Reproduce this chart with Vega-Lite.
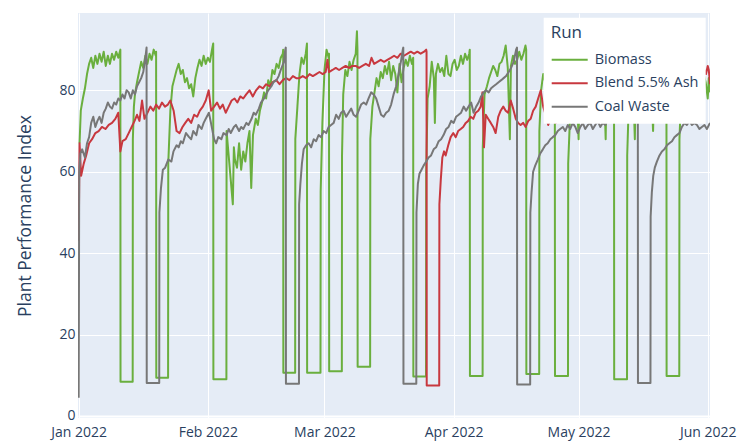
{
  "$schema": "https://vega.github.io/schema/vega-lite/v6.json",
  "width": 632,
  "height": 405,
  "autosize": {"type": "none"},
  "padding": {"left": 78, "top": 13, "right": 36, "bottom": 30},
  "background": "white",
  "config": {"view": {"fill": "#E5ECF6", "stroke": null}, "font": "Open Sans"},
  "datasets": {
    "biomass": [
      {"t":"2022-01-01T05:00","v":67},{"t":"2022-01-01T12:00","v":75},{"t":"2022-01-02T00:00","v":78},{"t":"2022-01-02T12:00","v":80.5},
      {"t":"2022-01-03T00:00","v":84},{"t":"2022-01-03T12:00","v":86.5},{"t":"2022-01-04T00:00","v":88},{"t":"2022-01-04T12:00","v":85.5},
      {"t":"2022-01-05T00:00","v":88.5},{"t":"2022-01-05T12:00","v":86.5},{"t":"2022-01-06T00:00","v":89},{"t":"2022-01-06T12:00","v":87},
      {"t":"2022-01-07T00:00","v":89.5},{"t":"2022-01-07T12:00","v":86},{"t":"2022-01-08T00:00","v":88.5},{"t":"2022-01-08T12:00","v":86.5},
      {"t":"2022-01-09T00:00","v":89},{"t":"2022-01-09T12:00","v":87.5},{"t":"2022-01-10T00:00","v":89.5},{"t":"2022-01-10T12:00","v":88},
      {"t":"2022-01-11T00:00","v":90},{"t":"2022-01-11T01:00","v":8.4},{"t":"2022-01-13T23:00","v":8.4},{"t":"2022-01-14T00:00","v":68},
      {"t":"2022-01-14T06:00","v":76},{"t":"2022-01-14T12:00","v":79},{"t":"2022-01-15T00:00","v":82},{"t":"2022-01-15T12:00","v":84.5},
      {"t":"2022-01-16T00:00","v":87},{"t":"2022-01-16T12:00","v":85.5},{"t":"2022-01-17T00:00","v":88.5},{"t":"2022-01-17T12:00","v":86.5},
      {"t":"2022-01-18T00:00","v":89},{"t":"2022-01-18T12:00","v":87.5},{"t":"2022-01-19T00:00","v":90},{"t":"2022-01-19T12:00","v":88.5},
      {"t":"2022-01-19T14:00","v":89.5},{"t":"2022-01-19T15:00","v":9.4},{"t":"2022-01-22T11:00","v":9.4},{"t":"2022-01-22T12:00","v":62},
      {"t":"2022-01-23T00:00","v":75},{"t":"2022-01-23T12:00","v":81},{"t":"2022-01-24T00:00","v":83},{"t":"2022-01-24T12:00","v":85},
      {"t":"2022-01-25T00:00","v":86.5},{"t":"2022-01-25T12:00","v":84},{"t":"2022-01-26T00:00","v":85},{"t":"2022-01-26T12:00","v":82},
      {"t":"2022-01-27T00:00","v":83},{"t":"2022-01-27T12:00","v":80.5},{"t":"2022-01-28T00:00","v":81.5},{"t":"2022-01-28T12:00","v":78.5},
      {"t":"2022-01-29T00:00","v":83},{"t":"2022-01-29T12:00","v":85.5},{"t":"2022-01-30T00:00","v":87.5},{"t":"2022-01-30T12:00","v":86},
      {"t":"2022-01-31T00:00","v":88.5},{"t":"2022-01-31T12:00","v":86.5},{"t":"2022-02-01T00:00","v":88},{"t":"2022-02-01T12:00","v":87},
      {"t":"2022-02-02T00:00","v":90},{"t":"2022-02-02T07:00","v":91.5},{"t":"2022-02-02T08:00","v":9},{"t":"2022-02-05T11:00","v":9},
      {"t":"2022-02-05T12:00","v":70},{"t":"2022-02-06T00:00","v":64},{"t":"2022-02-06T12:00","v":58},{"t":"2022-02-07T00:00","v":52},
      {"t":"2022-02-07T06:00","v":66},{"t":"2022-02-07T12:00","v":63},{"t":"2022-02-08T00:00","v":61},{"t":"2022-02-08T12:00","v":67},
      {"t":"2022-02-09T00:00","v":60.5},{"t":"2022-02-09T12:00","v":65},{"t":"2022-02-10T00:00","v":62.5},{"t":"2022-02-10T12:00","v":67},
      {"t":"2022-02-11T00:00","v":70},{"t":"2022-02-11T10:00","v":56},{"t":"2022-02-11T20:00","v":69},{"t":"2022-02-12T12:00","v":73},
      {"t":"2022-02-13T00:00","v":71.5},{"t":"2022-02-13T12:00","v":75},{"t":"2022-02-14T00:00","v":77},{"t":"2022-02-14T12:00","v":79.5},
      {"t":"2022-02-15T00:00","v":78},{"t":"2022-02-15T12:00","v":82.5},{"t":"2022-02-16T00:00","v":81},{"t":"2022-02-16T12:00","v":85},
      {"t":"2022-02-17T00:00","v":84},{"t":"2022-02-17T12:00","v":86.5},{"t":"2022-02-18T00:00","v":85.5},{"t":"2022-02-18T12:00","v":88},
      {"t":"2022-02-19T00:00","v":89},{"t":"2022-02-19T02:00","v":90},{"t":"2022-02-19T03:00","v":10.6},{"t":"2022-02-21T23:00","v":10.6},
      {"t":"2022-02-22T00:00","v":68},{"t":"2022-02-22T12:00","v":76},{"t":"2022-02-23T00:00","v":84},{"t":"2022-02-23T12:00","v":88},
      {"t":"2022-02-24T00:00","v":86.5},{"t":"2022-02-24T12:00","v":89},{"t":"2022-02-24T19:00","v":91.5},{"t":"2022-02-24T20:00","v":10.6},
      {"t":"2022-02-28T01:00","v":10.6},{"t":"2022-02-28T02:00","v":55},{"t":"2022-02-28T12:00","v":72},{"t":"2022-03-01T00:00","v":85},
      {"t":"2022-03-01T12:00","v":90},{"t":"2022-03-02T00:00","v":88},{"t":"2022-03-02T02:00","v":89},{"t":"2022-03-02T03:00","v":11},
      {"t":"2022-03-05T04:00","v":11},{"t":"2022-03-05T05:00","v":64},{"t":"2022-03-05T12:00","v":79},{"t":"2022-03-06T00:00","v":85},
      {"t":"2022-03-06T12:00","v":83.5},{"t":"2022-03-07T00:00","v":87},{"t":"2022-03-07T12:00","v":85},{"t":"2022-03-08T00:00","v":87.5},
      {"t":"2022-03-08T12:00","v":89},{"t":"2022-03-08T19:00","v":94.5},{"t":"2022-03-08T22:00","v":90},{"t":"2022-03-08T23:00","v":12.1},
      {"t":"2022-03-11T23:00","v":12.1},{"t":"2022-03-12T00:00","v":68},{"t":"2022-03-12T12:00","v":76},{"t":"2022-03-13T00:00","v":79.5},
      {"t":"2022-03-13T12:00","v":83},{"t":"2022-03-14T00:00","v":81},{"t":"2022-03-14T12:00","v":84.5},{"t":"2022-03-15T00:00","v":83},
      {"t":"2022-03-15T12:00","v":86},{"t":"2022-03-16T00:00","v":84},{"t":"2022-03-16T12:00","v":87},{"t":"2022-03-17T00:00","v":82.5},
      {"t":"2022-03-17T12:00","v":86},{"t":"2022-03-18T00:00","v":84},{"t":"2022-03-18T12:00","v":79.5},{"t":"2022-03-19T00:00","v":86.5},
      {"t":"2022-03-19T12:00","v":82},{"t":"2022-03-20T00:00","v":85.5},{"t":"2022-03-20T12:00","v":87.5},{"t":"2022-03-21T00:00","v":86},
      {"t":"2022-03-21T12:00","v":88.5},{"t":"2022-03-22T00:00","v":86.5},{"t":"2022-03-22T07:00","v":88},{"t":"2022-03-22T08:00","v":9.7},
      {"t":"2022-03-25T09:00","v":9.7},{"t":"2022-03-25T10:00","v":60},{"t":"2022-03-25T18:00","v":78},{"t":"2022-03-26T06:00","v":81},
      {"t":"2022-03-26T18:00","v":87},{"t":"2022-03-27T06:00","v":83},{"t":"2022-03-27T12:00","v":72},{"t":"2022-03-27T18:00","v":84},
      {"t":"2022-03-28T06:00","v":86.5},{"t":"2022-03-28T18:00","v":84.5},{"t":"2022-03-29T06:00","v":85.5},{"t":"2022-03-29T18:00","v":83.5},
      {"t":"2022-03-30T06:00","v":88.5},{"t":"2022-03-30T18:00","v":84},{"t":"2022-03-31T06:00","v":83.5},{"t":"2022-03-31T18:00","v":86.5},
      {"t":"2022-04-01T06:00","v":87.5},{"t":"2022-04-01T18:00","v":85},{"t":"2022-04-02T06:00","v":86},{"t":"2022-04-02T18:00","v":88.5},
      {"t":"2022-04-03T06:00","v":86.5},{"t":"2022-04-03T18:00","v":89},{"t":"2022-04-04T06:00","v":87.5},{"t":"2022-04-04T18:00","v":89},
      {"t":"2022-04-04T21:00","v":90},{"t":"2022-04-04T22:00","v":9.8},{"t":"2022-04-07T23:00","v":9.8},{"t":"2022-04-08T00:00","v":66},
      {"t":"2022-04-08T10:00","v":79},{"t":"2022-04-09T00:00","v":81},{"t":"2022-04-09T12:00","v":83},{"t":"2022-04-10T00:00","v":84.5},
      {"t":"2022-04-10T12:00","v":86},{"t":"2022-04-11T00:00","v":85},{"t":"2022-04-11T12:00","v":83.5},{"t":"2022-04-12T00:00","v":86.5},
      {"t":"2022-04-12T12:00","v":87},{"t":"2022-04-13T00:00","v":88.5},{"t":"2022-04-13T12:00","v":91},{"t":"2022-04-14T00:00","v":85.5},
      {"t":"2022-04-14T12:00","v":68},{"t":"2022-04-14T18:00","v":86},{"t":"2022-04-15T06:00","v":88.5},{"t":"2022-04-15T18:00","v":86.5},
      {"t":"2022-04-16T06:00","v":87.5},{"t":"2022-04-16T18:00","v":89.5},{"t":"2022-04-17T06:00","v":87.5},{"t":"2022-04-17T18:00","v":89},
      {"t":"2022-04-18T06:00","v":91},{"t":"2022-04-18T10:00","v":90},{"t":"2022-04-18T11:00","v":10.3},{"t":"2022-04-21T13:00","v":10.3},
      {"t":"2022-04-21T14:00","v":70},{"t":"2022-04-22T00:00","v":80},{"t":"2022-04-22T12:00","v":84},{"t":"2022-04-23T00:00","v":82},
      {"t":"2022-04-23T12:00","v":86},{"t":"2022-04-24T00:00","v":84.5},{"t":"2022-04-24T12:00","v":87},{"t":"2022-04-25T00:00","v":85.5},
      {"t":"2022-04-25T07:00","v":88},{"t":"2022-04-25T08:00","v":9.8},{"t":"2022-04-28T11:00","v":9.8},{"t":"2022-04-28T12:00","v":62},
      {"t":"2022-04-29T00:00","v":75},{"t":"2022-04-29T12:00","v":80},{"t":"2022-04-30T00:00","v":84},{"t":"2022-04-30T12:00","v":82},
      {"t":"2022-05-01T00:00","v":68},{"t":"2022-05-01T06:00","v":82},{"t":"2022-05-01T12:00","v":85},{"t":"2022-05-02T00:00","v":83},
      {"t":"2022-05-02T12:00","v":86.5},{"t":"2022-05-03T00:00","v":85},{"t":"2022-05-03T12:00","v":88},{"t":"2022-05-04T00:00","v":86},
      {"t":"2022-05-04T12:00","v":88.5},{"t":"2022-05-05T00:00","v":85.5},{"t":"2022-05-05T12:00","v":87},{"t":"2022-05-06T00:00","v":84.5},
      {"t":"2022-05-06T12:00","v":86.5},{"t":"2022-05-07T00:00","v":85},{"t":"2022-05-07T12:00","v":68},{"t":"2022-05-07T18:00","v":86},
      {"t":"2022-05-08T06:00","v":88},{"t":"2022-05-08T18:00","v":86.5},{"t":"2022-05-09T06:00","v":89},{"t":"2022-05-09T12:00","v":88},
      {"t":"2022-05-09T13:00","v":9},{"t":"2022-05-12T15:00","v":9},{"t":"2022-05-12T16:00","v":64},{"t":"2022-05-13T02:00","v":78},
      {"t":"2022-05-13T12:00","v":84},{"t":"2022-05-14T00:00","v":85},{"t":"2022-05-14T12:00","v":68},{"t":"2022-05-14T18:00","v":83},
      {"t":"2022-05-15T06:00","v":86},{"t":"2022-05-15T18:00","v":84},{"t":"2022-05-16T06:00","v":87},{"t":"2022-05-16T18:00","v":85},
      {"t":"2022-05-17T06:00","v":88},{"t":"2022-05-17T18:00","v":86},{"t":"2022-05-18T06:00","v":87.5},{"t":"2022-05-18T21:00","v":70},
      {"t":"2022-05-19T06:00","v":86},{"t":"2022-05-19T18:00","v":88},{"t":"2022-05-20T06:00","v":86},{"t":"2022-05-20T18:00","v":88.5},
      {"t":"2022-05-21T06:00","v":87},{"t":"2022-05-21T18:00","v":89},{"t":"2022-05-22T02:00","v":88},{"t":"2022-05-22T03:00","v":9.8},
      {"t":"2022-05-25T04:00","v":9.8},{"t":"2022-05-25T05:00","v":68},{"t":"2022-05-25T14:00","v":78},{"t":"2022-05-26T00:00","v":83},
      {"t":"2022-05-26T12:00","v":86},{"t":"2022-05-27T00:00","v":87.5},{"t":"2022-05-27T12:00","v":85},{"t":"2022-05-28T00:00","v":88},
      {"t":"2022-05-28T12:00","v":86},{"t":"2022-05-29T00:00","v":88.5},{"t":"2022-05-29T12:00","v":87},{"t":"2022-05-30T00:00","v":85.5},
      {"t":"2022-05-30T12:00","v":87},{"t":"2022-05-31T00:00","v":84},{"t":"2022-05-31T12:00","v":82},{"t":"2022-06-01T00:00","v":78},
      {"t":"2022-06-01T06:00","v":83},{"t":"2022-06-01T13:00","v":79.5}
    ],
    "blend": [
      {"t":"2022-01-01T00:00","v":43},{"t":"2022-01-01T05:00","v":67},{"t":"2022-01-01T14:00","v":59},{"t":"2022-01-02T05:00","v":62},
      {"t":"2022-01-02T19:00","v":64},{"t":"2022-01-03T12:00","v":67},{"t":"2022-01-04T05:00","v":68},{"t":"2022-01-05T00:00","v":69.5},
      {"t":"2022-01-05T19:00","v":70},{"t":"2022-01-06T14:00","v":71},{"t":"2022-01-07T10:00","v":70.5},{"t":"2022-01-08T05:00","v":71.5},
      {"t":"2022-01-09T00:00","v":72},{"t":"2022-01-09T19:00","v":73},{"t":"2022-01-10T12:00","v":74.5},{"t":"2022-01-11T00:00","v":65},
      {"t":"2022-01-11T12:00","v":67.5},{"t":"2022-01-12T07:00","v":68},{"t":"2022-01-13T00:00","v":69.5},{"t":"2022-01-13T17:00","v":71},
      {"t":"2022-01-14T10:00","v":72.5},{"t":"2022-01-15T00:00","v":74},{"t":"2022-01-15T14:00","v":72.5},{"t":"2022-01-16T05:00","v":77.5},
      {"t":"2022-01-16T19:00","v":73},{"t":"2022-01-17T12:00","v":74.5},{"t":"2022-01-18T05:00","v":76},{"t":"2022-01-18T22:00","v":75},
      {"t":"2022-01-19T14:00","v":76.5},{"t":"2022-01-20T07:00","v":75.5},{"t":"2022-01-21T00:00","v":77},{"t":"2022-01-21T17:00","v":76},
      {"t":"2022-01-22T10:00","v":76.5},{"t":"2022-01-23T00:00","v":77.5},{"t":"2022-01-23T19:00","v":75},{"t":"2022-01-24T12:00","v":70},
      {"t":"2022-01-25T05:00","v":69.5},{"t":"2022-01-25T22:00","v":71},{"t":"2022-01-26T14:00","v":72},{"t":"2022-01-27T07:00","v":73},
      {"t":"2022-01-28T00:00","v":72},{"t":"2022-01-28T17:00","v":74},{"t":"2022-01-29T10:00","v":73.5},{"t":"2022-01-30T02:00","v":75},
      {"t":"2022-01-30T19:00","v":76},{"t":"2022-01-31T12:00","v":77.5},{"t":"2022-02-01T05:00","v":80},{"t":"2022-02-01T19:00","v":75},
      {"t":"2022-02-02T12:00","v":76},{"t":"2022-02-03T05:00","v":77},{"t":"2022-02-03T22:00","v":75.5},{"t":"2022-02-04T14:00","v":76.5},
      {"t":"2022-02-05T07:00","v":74.5},{"t":"2022-02-06T00:00","v":76},{"t":"2022-02-06T17:00","v":77.5},{"t":"2022-02-07T10:00","v":78},
      {"t":"2022-02-08T02:00","v":77},{"t":"2022-02-08T19:00","v":78.5},{"t":"2022-02-09T12:00","v":78},{"t":"2022-02-10T05:00","v":79},
      {"t":"2022-02-11T00:00","v":80},{"t":"2022-02-11T19:00","v":78.5},{"t":"2022-02-12T14:00","v":80},{"t":"2022-02-13T10:00","v":81},
      {"t":"2022-02-14T05:00","v":80.5},{"t":"2022-02-15T00:00","v":81.5},{"t":"2022-02-15T19:00","v":81},{"t":"2022-02-16T14:00","v":82},
      {"t":"2022-02-17T10:00","v":82.5},{"t":"2022-02-18T05:00","v":81.5},{"t":"2022-02-19T00:00","v":82.5},{"t":"2022-02-19T19:00","v":83},
      {"t":"2022-02-20T14:00","v":82.5},{"t":"2022-02-21T10:00","v":83.5},{"t":"2022-02-22T05:00","v":83},{"t":"2022-02-23T00:00","v":83},
      {"t":"2022-02-23T19:00","v":83.5},{"t":"2022-02-24T14:00","v":83},{"t":"2022-02-25T10:00","v":84},{"t":"2022-02-26T05:00","v":83.5},
      {"t":"2022-02-27T00:00","v":84},{"t":"2022-02-27T19:00","v":84.5},{"t":"2022-02-28T14:00","v":84},{"t":"2022-03-01T07:00","v":84.5},
      {"t":"2022-03-01T17:00","v":87.5},{"t":"2022-03-02T02:00","v":84.5},{"t":"2022-03-02T22:00","v":85},{"t":"2022-03-03T17:00","v":85.5},
      {"t":"2022-03-04T12:00","v":85},{"t":"2022-03-05T07:00","v":85.5},{"t":"2022-03-06T02:00","v":86},{"t":"2022-03-06T22:00","v":85.5},
      {"t":"2022-03-07T17:00","v":86},{"t":"2022-03-08T12:00","v":86},{"t":"2022-03-09T07:00","v":85.5},{"t":"2022-03-10T02:00","v":86},
      {"t":"2022-03-10T22:00","v":86.5},{"t":"2022-03-11T17:00","v":86},{"t":"2022-03-12T07:00","v":88},{"t":"2022-03-12T22:00","v":86.5},
      {"t":"2022-03-13T17:00","v":87},{"t":"2022-03-14T12:00","v":87.5},{"t":"2022-03-15T07:00","v":87},{"t":"2022-03-16T02:00","v":87.5},
      {"t":"2022-03-16T22:00","v":88},{"t":"2022-03-17T17:00","v":88.5},{"t":"2022-03-18T12:00","v":88},{"t":"2022-03-19T07:00","v":89},
      {"t":"2022-03-20T02:00","v":88.5},{"t":"2022-03-20T22:00","v":89},{"t":"2022-03-21T17:00","v":89.5},{"t":"2022-03-22T12:00","v":89},
      {"t":"2022-03-23T07:00","v":89.5},{"t":"2022-03-24T02:00","v":89},{"t":"2022-03-24T22:00","v":89.5},{"t":"2022-03-25T10:00","v":90},
      {"t":"2022-03-25T12:00","v":89.5},{"t":"2022-03-25T13:00","v":7.5},{"t":"2022-03-28T13:00","v":7.5},{"t":"2022-03-28T14:00","v":52},
      {"t":"2022-03-28T22:00","v":58},{"t":"2022-03-29T07:00","v":63.5},{"t":"2022-03-29T17:00","v":65},{"t":"2022-03-30T02:00","v":64},
      {"t":"2022-03-30T17:00","v":66.5},{"t":"2022-03-31T07:00","v":68.5},{"t":"2022-03-31T22:00","v":69.5},{"t":"2022-04-01T12:00","v":68.5},
      {"t":"2022-04-02T02:00","v":70},{"t":"2022-04-02T17:00","v":70.5},{"t":"2022-04-03T07:00","v":71},{"t":"2022-04-03T22:00","v":72},
      {"t":"2022-04-04T12:00","v":72.5},{"t":"2022-04-05T02:00","v":73.5},{"t":"2022-04-05T17:00","v":73},{"t":"2022-04-06T07:00","v":74.5},
      {"t":"2022-04-06T22:00","v":75},{"t":"2022-04-07T12:00","v":76},{"t":"2022-04-07T22:00","v":79.5},{"t":"2022-04-08T07:00","v":66},
      {"t":"2022-04-08T17:00","v":74},{"t":"2022-04-09T07:00","v":73},{"t":"2022-04-09T22:00","v":72},{"t":"2022-04-10T12:00","v":71},
      {"t":"2022-04-11T02:00","v":69.5},{"t":"2022-04-11T17:00","v":73.5},{"t":"2022-04-12T07:00","v":75},{"t":"2022-04-12T22:00","v":76},
      {"t":"2022-04-13T12:00","v":75},{"t":"2022-04-14T02:00","v":74.5},{"t":"2022-04-14T17:00","v":77.5},{"t":"2022-04-15T07:00","v":75.5},
      {"t":"2022-04-15T22:00","v":73},{"t":"2022-04-16T12:00","v":72},{"t":"2022-04-17T02:00","v":71.5},{"t":"2022-04-17T17:00","v":72},
      {"t":"2022-04-18T07:00","v":71},{"t":"2022-04-18T22:00","v":72.5},{"t":"2022-04-19T12:00","v":73},{"t":"2022-04-20T02:00","v":75},
      {"t":"2022-04-20T17:00","v":76},{"t":"2022-04-21T07:00","v":78},{"t":"2022-04-21T22:00","v":80},{"t":"2022-04-22T12:00","v":76},
      {"t":"2022-04-23T02:00","v":74},{"t":"2022-04-23T17:00","v":71.5},{"t":"2022-04-24T07:00","v":73},{"t":"2022-04-24T22:00","v":75},
      {"t":"2022-04-25T12:00","v":72},{"t":"2022-04-26T02:00","v":74},{"t":"2022-04-26T17:00","v":76},{"t":"2022-04-27T07:00","v":78},
      {"t":"2022-04-28T00:00","v":79},{"t":"2022-04-29T00:00","v":80},{"t":"2022-04-30T00:00","v":79},{"t":"2022-05-01T00:00","v":81},
      {"t":"2022-05-02T00:00","v":80},{"t":"2022-05-03T00:00","v":82},{"t":"2022-05-04T00:00","v":81},{"t":"2022-05-05T00:00","v":83},
      {"t":"2022-05-06T00:00","v":82},{"t":"2022-05-07T00:00","v":81},{"t":"2022-05-08T00:00","v":83},{"t":"2022-05-09T00:00","v":82.5},
      {"t":"2022-05-10T00:00","v":84},{"t":"2022-05-11T00:00","v":83},{"t":"2022-05-12T00:00","v":82},{"t":"2022-05-13T00:00","v":83.5},
      {"t":"2022-05-14T00:00","v":84},{"t":"2022-05-15T00:00","v":83},{"t":"2022-05-16T00:00","v":84.5},{"t":"2022-05-17T00:00","v":84},
      {"t":"2022-05-18T00:00","v":85},{"t":"2022-05-19T00:00","v":84},{"t":"2022-05-20T00:00","v":83},{"t":"2022-05-21T00:00","v":84.5},
      {"t":"2022-05-22T00:00","v":85},{"t":"2022-05-23T00:00","v":84},{"t":"2022-05-24T00:00","v":85.5},{"t":"2022-05-25T00:00","v":85},
      {"t":"2022-05-26T00:00","v":84},{"t":"2022-05-27T00:00","v":85.5},{"t":"2022-05-28T00:00","v":86},{"t":"2022-05-29T00:00","v":85},
      {"t":"2022-05-30T00:00","v":84.5},{"t":"2022-05-31T00:00","v":85.5},{"t":"2022-05-31T14:00","v":84},{"t":"2022-06-01T00:00","v":86},
      {"t":"2022-06-01T06:00","v":85},{"t":"2022-06-01T13:00","v":81.5}
    ],
    "coal": [
      {"t":"2022-01-01T00:00","v":4.5},{"t":"2022-01-01T03:00","v":60},{"t":"2022-01-01T10:00","v":64.5},{"t":"2022-01-01T20:00","v":65.5},
      {"t":"2022-01-02T12:00","v":63.5},{"t":"2022-01-03T00:00","v":67},{"t":"2022-01-03T12:00","v":68.5},{"t":"2022-01-04T00:00","v":72},
      {"t":"2022-01-04T12:00","v":73.5},{"t":"2022-01-05T00:00","v":71},{"t":"2022-01-05T12:00","v":72.5},{"t":"2022-01-06T00:00","v":73.5},
      {"t":"2022-01-06T12:00","v":72},{"t":"2022-01-07T00:00","v":74.5},{"t":"2022-01-07T12:00","v":75.5},{"t":"2022-01-08T00:00","v":77},
      {"t":"2022-01-08T12:00","v":76},{"t":"2022-01-09T00:00","v":75.5},{"t":"2022-01-09T12:00","v":77},{"t":"2022-01-10T00:00","v":76.5},
      {"t":"2022-01-10T12:00","v":78},{"t":"2022-01-11T00:00","v":77.5},{"t":"2022-01-11T12:00","v":79},{"t":"2022-01-12T00:00","v":78},
      {"t":"2022-01-12T12:00","v":80},{"t":"2022-01-13T00:00","v":79.5},{"t":"2022-01-13T12:00","v":78},{"t":"2022-01-14T00:00","v":80},
      {"t":"2022-01-14T12:00","v":79},{"t":"2022-01-15T00:00","v":81},{"t":"2022-01-15T12:00","v":82},{"t":"2022-01-16T00:00","v":83},
      {"t":"2022-01-16T12:00","v":84.5},{"t":"2022-01-17T00:00","v":88},{"t":"2022-01-17T07:00","v":90.5},{"t":"2022-01-17T08:00","v":8.1},
      {"t":"2022-01-20T08:00","v":8.1},{"t":"2022-01-20T09:00","v":50},{"t":"2022-01-20T18:00","v":56},{"t":"2022-01-21T05:00","v":60.5},
      {"t":"2022-01-21T18:00","v":61},{"t":"2022-01-22T12:00","v":63},{"t":"2022-01-23T06:00","v":62.5},{"t":"2022-01-23T18:00","v":65},
      {"t":"2022-01-24T12:00","v":66.5},{"t":"2022-01-25T00:00","v":66},{"t":"2022-01-25T12:00","v":67.5},{"t":"2022-01-26T00:00","v":67},
      {"t":"2022-01-26T18:00","v":69.5},{"t":"2022-01-27T12:00","v":68.5},{"t":"2022-01-28T00:00","v":68},{"t":"2022-01-28T12:00","v":70},
      {"t":"2022-01-29T06:00","v":69},{"t":"2022-01-29T18:00","v":71.5},{"t":"2022-01-30T12:00","v":70.5},{"t":"2022-01-31T00:00","v":72},
      {"t":"2022-01-31T12:00","v":73},{"t":"2022-02-01T06:00","v":74.5},{"t":"2022-02-01T18:00","v":72},{"t":"2022-02-02T12:00","v":68},
      {"t":"2022-02-03T00:00","v":67},{"t":"2022-02-03T12:00","v":68.5},{"t":"2022-02-04T06:00","v":68},{"t":"2022-02-04T18:00","v":69.5},
      {"t":"2022-02-05T12:00","v":69},{"t":"2022-02-06T00:00","v":70.5},{"t":"2022-02-06T12:00","v":69.5},{"t":"2022-02-07T06:00","v":71},
      {"t":"2022-02-07T18:00","v":71.5},{"t":"2022-02-08T12:00","v":70},{"t":"2022-02-09T00:00","v":71},{"t":"2022-02-09T12:00","v":70.5},
      {"t":"2022-02-10T06:00","v":72},{"t":"2022-02-10T18:00","v":71.5},{"t":"2022-02-11T12:00","v":73},{"t":"2022-02-12T00:00","v":74.5},
      {"t":"2022-02-12T12:00","v":74},{"t":"2022-02-13T06:00","v":75.5},{"t":"2022-02-13T18:00","v":77},{"t":"2022-02-14T12:00","v":78},
      {"t":"2022-02-15T00:00","v":79},{"t":"2022-02-15T12:00","v":80},{"t":"2022-02-16T06:00","v":81},{"t":"2022-02-16T18:00","v":82},
      {"t":"2022-02-17T12:00","v":82.5},{"t":"2022-02-18T00:00","v":83.5},{"t":"2022-02-18T12:00","v":85},{"t":"2022-02-19T06:00","v":87},
      {"t":"2022-02-19T14:00","v":90},{"t":"2022-02-19T17:00","v":90.5},{"t":"2022-02-19T18:00","v":7.9},{"t":"2022-02-22T21:00","v":7.9},
      {"t":"2022-02-22T22:00","v":52},{"t":"2022-02-23T05:00","v":57},{"t":"2022-02-23T14:00","v":62},{"t":"2022-02-24T00:00","v":65.5},
      {"t":"2022-02-24T14:00","v":66.5},{"t":"2022-02-25T05:00","v":67},{"t":"2022-02-25T19:00","v":66},{"t":"2022-02-26T10:00","v":68},
      {"t":"2022-02-27T00:00","v":67.5},{"t":"2022-02-27T14:00","v":69},{"t":"2022-02-28T05:00","v":68.5},{"t":"2022-02-28T19:00","v":70},
      {"t":"2022-03-01T10:00","v":69.5},{"t":"2022-03-02T00:00","v":71},{"t":"2022-03-02T14:00","v":71.5},{"t":"2022-03-03T05:00","v":72},
      {"t":"2022-03-03T19:00","v":74},{"t":"2022-03-04T10:00","v":73},{"t":"2022-03-05T00:00","v":74.5},{"t":"2022-03-05T14:00","v":75},
      {"t":"2022-03-06T05:00","v":73.5},{"t":"2022-03-06T19:00","v":74.5},{"t":"2022-03-07T10:00","v":75.5},{"t":"2022-03-08T00:00","v":74},
      {"t":"2022-03-08T14:00","v":73.5},{"t":"2022-03-09T05:00","v":75},{"t":"2022-03-09T19:00","v":76.5},{"t":"2022-03-10T10:00","v":77},
      {"t":"2022-03-11T00:00","v":76.5},{"t":"2022-03-11T14:00","v":78},{"t":"2022-03-12T05:00","v":79.5},{"t":"2022-03-12T19:00","v":79},
      {"t":"2022-03-13T10:00","v":78},{"t":"2022-03-14T00:00","v":76},{"t":"2022-03-14T14:00","v":74},{"t":"2022-03-15T05:00","v":73.5},
      {"t":"2022-03-15T19:00","v":74.5},{"t":"2022-03-16T10:00","v":75},{"t":"2022-03-17T00:00","v":76.5},{"t":"2022-03-17T14:00","v":79},
      {"t":"2022-03-18T05:00","v":81},{"t":"2022-03-18T19:00","v":84},{"t":"2022-03-19T10:00","v":87.5},{"t":"2022-03-19T19:00","v":90},
      {"t":"2022-03-19T22:00","v":90.5},{"t":"2022-03-19T23:00","v":7.9},{"t":"2022-03-23T01:00","v":7.9},{"t":"2022-03-23T02:00","v":50},
      {"t":"2022-03-23T10:00","v":57},{"t":"2022-03-23T19:00","v":59.5},{"t":"2022-03-24T07:00","v":60.5},{"t":"2022-03-24T19:00","v":61.5},
      {"t":"2022-03-25T10:00","v":62.5},{"t":"2022-03-26T00:00","v":63.5},{"t":"2022-03-26T14:00","v":64},{"t":"2022-03-27T05:00","v":65.5},
      {"t":"2022-03-27T19:00","v":66},{"t":"2022-03-28T10:00","v":67.5},{"t":"2022-03-29T00:00","v":68},{"t":"2022-03-29T14:00","v":69},
      {"t":"2022-03-30T05:00","v":70.5},{"t":"2022-03-30T19:00","v":71},{"t":"2022-03-31T10:00","v":72.5},{"t":"2022-04-01T00:00","v":72},
      {"t":"2022-04-01T14:00","v":73.5},{"t":"2022-04-02T05:00","v":74},{"t":"2022-04-02T19:00","v":74.5},{"t":"2022-04-03T10:00","v":76},
      {"t":"2022-04-04T00:00","v":75},{"t":"2022-04-04T14:00","v":76},{"t":"2022-04-05T05:00","v":77},{"t":"2022-04-05T19:00","v":74.5},
      {"t":"2022-04-06T10:00","v":76},{"t":"2022-04-07T00:00","v":77},{"t":"2022-04-07T14:00","v":78.5},{"t":"2022-04-08T05:00","v":79.5},
      {"t":"2022-04-08T19:00","v":80},{"t":"2022-04-09T10:00","v":79.5},{"t":"2022-04-10T00:00","v":80.5},{"t":"2022-04-10T14:00","v":81},
      {"t":"2022-04-11T05:00","v":81.5},{"t":"2022-04-11T19:00","v":82},{"t":"2022-04-12T10:00","v":82.5},{"t":"2022-04-13T00:00","v":83},
      {"t":"2022-04-13T14:00","v":83.5},{"t":"2022-04-14T05:00","v":84.5},{"t":"2022-04-14T19:00","v":85.5},{"t":"2022-04-15T10:00","v":87},
      {"t":"2022-04-16T00:00","v":90},{"t":"2022-04-16T05:00","v":90.5},{"t":"2022-04-16T06:00","v":7.7},{"t":"2022-04-19T09:00","v":7.7},
      {"t":"2022-04-19T10:00","v":50},{"t":"2022-04-19T17:00","v":55},{"t":"2022-04-20T02:00","v":60},{"t":"2022-04-20T14:00","v":61.5},
      {"t":"2022-04-21T05:00","v":63},{"t":"2022-04-21T19:00","v":64.5},{"t":"2022-04-22T10:00","v":65.5},{"t":"2022-04-23T00:00","v":66.5},
      {"t":"2022-04-23T14:00","v":67},{"t":"2022-04-24T05:00","v":68},{"t":"2022-04-24T19:00","v":68.5},{"t":"2022-04-25T10:00","v":69},
      {"t":"2022-04-26T00:00","v":70},{"t":"2022-04-26T14:00","v":70.5},{"t":"2022-04-27T05:00","v":71},{"t":"2022-04-27T19:00","v":70},
      {"t":"2022-04-28T10:00","v":71.5},{"t":"2022-04-29T00:00","v":70.5},{"t":"2022-04-29T14:00","v":72},{"t":"2022-04-30T05:00","v":71},
      {"t":"2022-04-30T19:00","v":69.5},{"t":"2022-05-01T10:00","v":71},{"t":"2022-05-02T00:00","v":72},{"t":"2022-05-02T14:00","v":70.5},
      {"t":"2022-05-03T05:00","v":71.5},{"t":"2022-05-03T19:00","v":72},{"t":"2022-05-04T10:00","v":70.5},{"t":"2022-05-05T00:00","v":71.5},
      {"t":"2022-05-05T14:00","v":72.5},{"t":"2022-05-06T05:00","v":71},{"t":"2022-05-06T19:00","v":72},{"t":"2022-05-07T10:00","v":71.5},
      {"t":"2022-05-08T00:00","v":73},{"t":"2022-05-08T14:00","v":74},{"t":"2022-05-09T05:00","v":75},{"t":"2022-05-09T19:00","v":76.5},
      {"t":"2022-05-10T10:00","v":78},{"t":"2022-05-11T00:00","v":79},{"t":"2022-05-11T14:00","v":80},{"t":"2022-05-12T05:00","v":81},
      {"t":"2022-05-12T19:00","v":82},{"t":"2022-05-13T10:00","v":83.5},{"t":"2022-05-14T00:00","v":85},{"t":"2022-05-14T14:00","v":87.5},
      {"t":"2022-05-15T02:00","v":90},{"t":"2022-05-15T05:00","v":90.5},{"t":"2022-05-15T06:00","v":8.1},{"t":"2022-05-18T06:00","v":8.1},
      {"t":"2022-05-18T07:00","v":49},{"t":"2022-05-18T14:00","v":55},{"t":"2022-05-18T22:00","v":59},{"t":"2022-05-19T07:00","v":61},
      {"t":"2022-05-19T19:00","v":62.5},{"t":"2022-05-20T10:00","v":64},{"t":"2022-05-21T00:00","v":65},{"t":"2022-05-21T14:00","v":65.5},
      {"t":"2022-05-22T05:00","v":66.5},{"t":"2022-05-22T19:00","v":67},{"t":"2022-05-23T10:00","v":67.5},{"t":"2022-05-24T00:00","v":68.5},
      {"t":"2022-05-24T14:00","v":69},{"t":"2022-05-25T05:00","v":69.5},{"t":"2022-05-25T19:00","v":71},{"t":"2022-05-26T10:00","v":72},
      {"t":"2022-05-27T00:00","v":71.5},{"t":"2022-05-27T14:00","v":72.5},{"t":"2022-05-28T05:00","v":71.5},{"t":"2022-05-28T19:00","v":72},
      {"t":"2022-05-29T10:00","v":71.5},{"t":"2022-05-30T00:00","v":70.5},{"t":"2022-05-30T14:00","v":71},{"t":"2022-05-31T05:00","v":71.5},
      {"t":"2022-05-31T19:00","v":70.5},{"t":"2022-06-01T13:00","v":72}
    ]
  },
  "encoding": {
    "x": {
      "field": "t",
      "type": "temporal",
      "scale": {"domain": [{"year": 2021, "month": 12, "date": 31, "hours": 20}, {"year": 2022, "month": 6, "date": 1, "hours": 13}]},
      "axis": {
        "title": null,
        "format": "%b %Y",
        "values": [
          {"year": 2022, "month": 1, "date": 1}, {"year": 2022, "month": 2, "date": 1}, {"year": 2022, "month": 3, "date": 1},
          {"year": 2022, "month": 4, "date": 1}, {"year": 2022, "month": 5, "date": 1}, {"year": 2022, "month": 6, "date": 1}
        ],
        "labelFontSize": 14,
        "labelColor": "#2a3f5f",
        "labelFont": "Open Sans",
        "labelPadding": 7,
        "labelFlush": false,
        "labelOverlap": false,
        "grid": true,
        "gridColor": "white",
        "gridWidth": 1,
        "domain": false,
        "ticks": false
      }
    },
    "y": {
      "field": "v",
      "type": "quantitative",
      "scale": {"domain": [-0.5, 99], "nice": false, "zero": false},
      "axis": {
        "title": "Plant Performance Index",
        "values": [0, 20, 40, 60, 80],
        "labelFontSize": 14,
        "labelColor": "#2a3f5f",
        "labelFont": "Open Sans",
        "labelPadding": 3,
        "titleFont": "Open Sans",
        "titleFontSize": 17.5,
        "titleFontWeight": "normal",
        "titleColor": "#2a3f5f",
        "titlePadding": 24,
        "grid": true,
        "gridColor": "white",
        "gridWidth": {"condition": {"test": "datum.value === 0", "value": 2}, "value": 1},
        "domain": false,
        "ticks": false
      }
    }
  },
  "layer": [
    {
      "data": {"name": "biomass"},
      "mark": {"type": "line", "strokeWidth": 2, "strokeJoin": "round", "clip": true},
      "encoding": {
        "color": {
          "datum": "Biomass",
          "type": "nominal",
          "scale": {"domain": ["Biomass", "Blend 5.5% Ash", "Coal Waste"], "range": ["#6aaf3e", "#c8383f", "#777777"]},
          "legend": {
            "title": "Run",
            "orient": "none",
            "legendX": 465.7,
            "legendY": 4.7,
            "direction": "vertical",
            "fillColor": "white",
            "padding": 7,
            "titleFont": "Open Sans",
            "titleFontSize": 17,
            "titleFontWeight": "normal",
            "titleColor": "#2a3f5f",
            "titlePadding": 8,
            "labelFont": "Open Sans",
            "labelFontSize": 14.5,
            "labelColor": "#2a3f5f",
            "labelOffset": 6,
            "symbolType": "stroke",
            "symbolStrokeWidth": 2,
            "symbolSize": 1296,
            "clipHeight": 20,
            "rowPadding": 3.5
          }
        }
      }
    },
    {
      "data": {"name": "blend"},
      "mark": {"type": "line", "strokeWidth": 2, "strokeJoin": "round", "clip": true},
      "encoding": {"color": {"datum": "Blend 5.5% Ash", "type": "nominal"}}
    },
    {
      "data": {"name": "coal"},
      "mark": {"type": "line", "strokeWidth": 2, "strokeJoin": "round", "clip": true},
      "encoding": {"color": {"datum": "Coal Waste", "type": "nominal"}}
    }
  ]
}
